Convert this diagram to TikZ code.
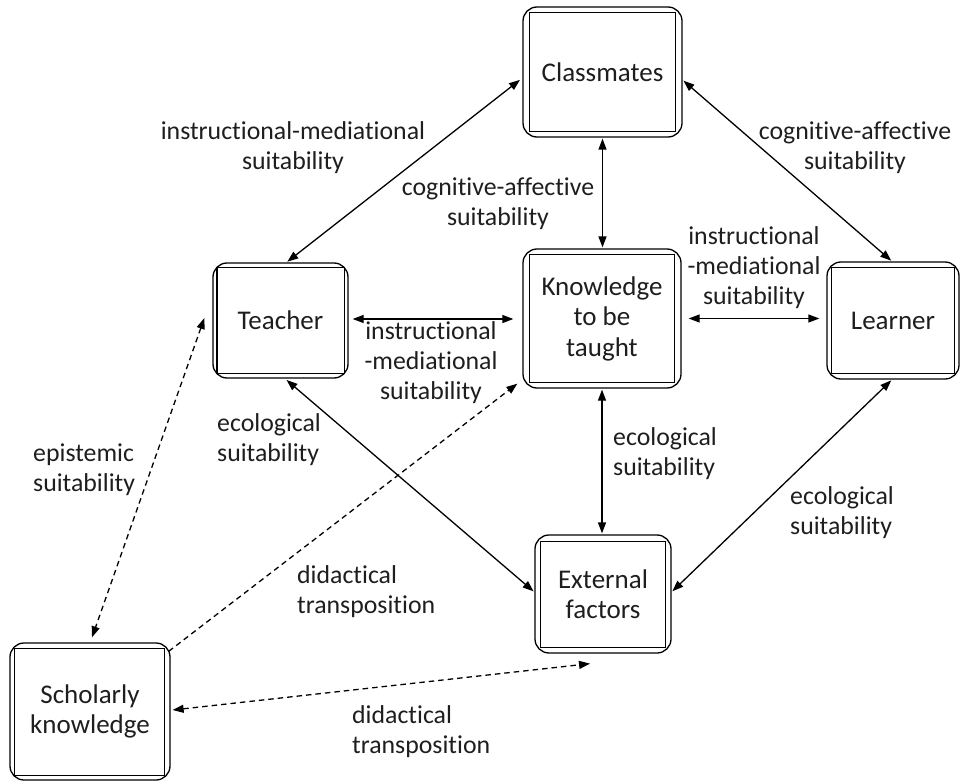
\documentclass[tikz,border=0pt]{standalone}
\usepackage{fontspec}
\setmainfont[Ligatures=NoCommon]{Carlito}
\usetikzlibrary{arrows.meta}
\definecolor{txt}{RGB}{30,30,30}
\begin{document}
\begin{tikzpicture}[x=1pt,y=-1pt,
  box/.style={draw, line width=1.3pt, rounded corners=14pt, inner sep=0pt, align=center,
    font=\fontsize{27}{30.5}\selectfont, text=txt},
  lbl/.style={inner sep=0pt, align=center, font=\fontsize{25.8}{30}\selectfont, text=txt},
  lbll/.style={lbl, align=left, anchor=west},
  conn/.style={line width=1.3pt, {Triangle[length=11pt,width=8pt]}-{Triangle[length=11pt,width=8pt]}},
  dconn/.style={conn, dash pattern=on 5.5pt off 4pt},
  dconn1/.style={line width=1.3pt, -{Triangle[length=11pt,width=8pt]}, dash pattern=on 5.5pt off 4pt},
  inbox/.style={line width=1.3pt},
]
\useasboundingbox (0,0) rectangle (962,781);

% boxes
\node[box, minimum width=159pt, minimum height=130pt] (cls) at (602.5,72) {Classmates};
\node[box, minimum width=158pt, minimum height=139pt] (knw) at (602,318.5) {Knowledge\\to be\\taught};
\node[box, minimum width=135pt, minimum height=115pt] (tch) at (280.5,320.5) {Teacher};
\node[box, minimum width=132pt, minimum height=117pt] (lrn) at (893,320.5) {Learner};
\node[box, minimum width=136pt, minimum height=118pt] (ext) at (603,594) {External\\factors};
\node[box, minimum width=160pt, minimum height=137pt] (sch) at (90,711.5) {Scholarly\\knowledge};

% inner rectangles
\draw[inbox] ([xshift=7pt,yshift=-6pt]cls.north west) rectangle ([xshift=-7pt,yshift=6pt]cls.south east);
\draw[inbox] ([xshift=7pt,yshift=-6pt]knw.north west) rectangle ([xshift=-7pt,yshift=6pt]knw.south east);
\draw[inbox] ([xshift=4.5pt,yshift=-5pt]tch.north west) rectangle ([xshift=-4.5pt,yshift=5pt]tch.south east);
\draw[inbox] ([xshift=5pt,yshift=-6pt]lrn.north west) rectangle ([xshift=-5pt,yshift=6pt]lrn.south east);
\draw[inbox] ([xshift=6pt,yshift=-7pt]ext.north west) rectangle ([xshift=-6pt,yshift=6pt]ext.south east);
\draw[inbox] ([xshift=5pt,yshift=-6pt]sch.north west) rectangle ([xshift=-6pt,yshift=5pt]sch.south east);

% solid connectors
\draw[conn, shorten <=1pt, shorten >=3pt] ([xshift=6pt]tch.north) -- ([yshift=-6pt]cls.west);
\draw[conn, shorten <=1pt, shorten >=1pt] (cls.south) -- (cls.south |- knw.north);
\draw[conn, shorten <=1pt, shorten >=1pt] ([yshift=-8pt]cls.east) -- ([xshift=-1pt]lrn.north);
\draw[conn, shorten <=4pt, shorten >=9pt] ([yshift=1.5pt]tch.east) -- ([yshift=1.5pt]tch.east -| knw.west);
\draw[conn, shorten <=7pt, shorten >=7pt] (knw.east) -- (knw.east -| lrn.west);
\draw[conn, shorten <=2pt, shorten >=1pt] ([xshift=4.5pt]tch.south) -- ([yshift=2pt]ext.west);
\draw[conn, shorten <=1pt, shorten >=1pt] (knw.south) -- (knw.south |- ext.north);
\draw[conn, shorten <=1pt, shorten >=1pt] ([xshift=-1pt]lrn.south) -- ([yshift=2pt]ext.east);

% dashed connectors
\draw[dconn] ([xshift=-8pt,yshift=2.5pt]tch.west) -- ([xshift=2pt,yshift=5pt]sch.north);
\draw[dconn1] ([xshift=-2pt,yshift=-9pt]sch.north east) -- ([xshift=-5pt,yshift=5pt]knw.south west);
\draw[dconn] ([xshift=2pt,yshift=1.5pt]sch.east) -- ([xshift=-13pt,yshift=-10pt]ext.south);

% labels
\node[lbl] (l1) at (293,148) {instructional-mediational\\suitability};
\node[lbl] (l2) at (498,204) {cognitive-affective\\suitability};
\node[lbl] (l3) at (855,147.5) {cognitive-affective\\suitability};
\node[lbl] (l4) at (754,267.5) {instructional\\-mediational\\suitability};
\node[lbl] (l5) at (431,363) {instructional\\-mediational\\suitability};
\node[lbll] (l6) at (217,440) {ecological\\suitability};
\node[lbll] (l7) at (33,470) {epistemic\\suitability};
\node[lbll] (l8) at (613,453.5) {ecological\\suitability};
\node[lbll] (l9) at (790,512.5) {ecological\\suitability};
\node[lbll] (l10) at (297,592) {didactical\\transposition};
\node[lbll] (l11) at (352,731.5) {didactical\\transposition};
\end{tikzpicture}
\end{document}
